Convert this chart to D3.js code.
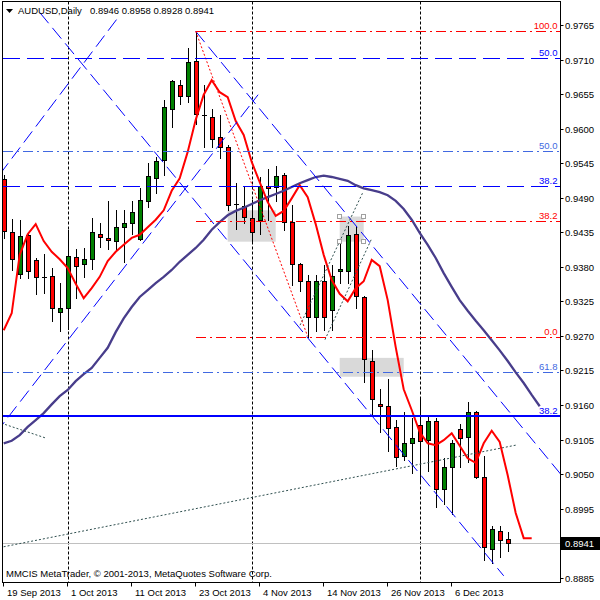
<!DOCTYPE html>
<html><head><meta charset="utf-8">
<script src="https://cdn.jsdelivr.net/npm/d3@7"></script>
<style>
body{margin:0;background:#fff}
svg{display:block}
text{font-family:"Liberation Sans",Arial,sans-serif;font-size:9.5px}
</style></head>
<body><svg id="c" width="600" height="600"></svg>
<script>
// ---------- DATA ----------
const dates = ["19 Sep","20 Sep","23 Sep","24 Sep","25 Sep","26 Sep","27 Sep","30 Sep","1 Oct","2 Oct","3 Oct","4 Oct","7 Oct","8 Oct","9 Oct","10 Oct","11 Oct","14 Oct","15 Oct","16 Oct","17 Oct","18 Oct","21 Oct","22 Oct","23 Oct","24 Oct","25 Oct","28 Oct","29 Oct","30 Oct","31 Oct","1 Nov","4 Nov","5 Nov","6 Nov","7 Nov","8 Nov","11 Nov","12 Nov","13 Nov","14 Nov","15 Nov","18 Nov","19 Nov","20 Nov","21 Nov","22 Nov","25 Nov","26 Nov","27 Nov","28 Nov","29 Nov","2 Dec","3 Dec","4 Dec","5 Dec","6 Dec","9 Dec","10 Dec","11 Dec","12 Dec","13 Dec","16 Dec","17 Dec"];
const open  = [0.9520,0.9435,0.9368,0.9430,0.9391,0.9364,0.9365,0.9308,0.9315,0.9395,0.9384,0.9392,0.9433,0.9426,0.9421,0.9443,0.9449,0.9425,0.9485,0.9522,0.9550,0.9632,0.9669,0.9652,0.9707,0.9622,0.9619,0.9586,0.9570,0.9480,0.9477,0.9457,0.9455,0.9509,0.9507,0.9526,0.9452,0.9384,0.9357,0.9300,0.9357,0.9312,0.9373,0.9374,0.9432,0.9332,0.9230,0.9161,0.9158,0.9125,0.9078,0.9099,0.9128,0.9104,0.9135,0.9027,0.9061,0.9122,0.9109,0.9149,0.9046,0.8931,0.8959,0.8946];
const high  = [0.9526,0.9456,0.9455,0.9432,0.9394,0.9400,0.9378,0.9354,0.9439,0.9409,0.9410,0.9457,0.9450,0.9484,0.9470,0.9470,0.9484,0.9505,0.9545,0.9555,0.9646,0.9677,0.9677,0.9729,0.9755,0.9669,0.9632,0.9622,0.9574,0.9513,0.9509,0.9486,0.9523,0.9535,0.9540,0.9529,0.9478,0.9386,0.9367,0.9367,0.9383,0.9383,0.9417,0.9445,0.9445,0.9333,0.9247,0.9186,0.9201,0.9136,0.9149,0.9139,0.9171,0.9142,0.9139,0.9075,0.9104,0.9130,0.9165,0.9150,0.9079,0.8967,0.8967,0.8958];
const low   = [0.9426,0.9375,0.9362,0.9362,0.9336,0.9339,0.9294,0.9278,0.9281,0.9331,0.9364,0.9376,0.9412,0.9408,0.9407,0.9387,0.9433,0.9423,0.9475,0.9497,0.9526,0.9602,0.9640,0.9643,0.9608,0.9570,0.9570,0.9554,0.9470,0.9440,0.9449,0.9418,0.9433,0.9455,0.9484,0.9439,0.9351,0.9342,0.9269,0.9277,0.9279,0.9279,0.9354,0.9354,0.9314,0.9196,0.9142,0.9117,0.9087,0.9063,0.9073,0.9052,0.9039,0.9055,0.8997,0.9002,0.8987,0.9062,0.9070,0.9044,0.8913,0.8909,0.8918,0.8928];
const close = [0.9437,0.9392,0.9429,0.9374,0.9364,0.9364,0.9314,0.9314,0.9397,0.9382,0.9392,0.9435,0.9427,0.9422,0.9443,0.9449,0.9467,0.9486,0.9525,0.9548,0.9634,0.9676,0.9652,0.9706,0.9624,0.9622,0.9583,0.9570,0.9478,0.9480,0.9459,0.9436,0.9509,0.9505,0.9525,0.9452,0.9384,0.9357,0.9300,0.9357,0.9300,0.9366,0.9376,0.9431,0.9333,0.9233,0.9169,0.9158,0.9124,0.9077,0.9099,0.9108,0.9103,0.9135,0.9026,0.9062,0.9099,0.9108,0.9149,0.9046,0.8934,0.8962,0.8945,0.8941];
// fast MA (red), plotted with forward shift: one value per bar slot 0..66
const maFast = [0.9279,0.9306,0.9399,0.9432,0.9448,0.9421,0.9404,0.9392,0.9378,0.9353,0.9330,0.9346,0.9364,0.9389,0.9404,0.9415,0.9426,0.9431,0.9443,0.9455,0.9470,0.9501,0.9521,0.9563,0.9614,0.9654,0.9677,0.9658,0.9650,0.9612,0.9590,0.9547,0.9515,0.9483,0.9461,0.9469,0.9489,0.9510,0.9491,0.9448,0.9399,0.9359,0.9337,0.9325,0.9346,0.9357,0.9391,0.9381,0.9327,0.9252,0.9185,0.9152,0.9117,0.9099,0.9096,0.9104,0.9115,0.9095,0.9075,0.9068,0.9099,0.9119,0.9101,0.9048,0.8988,0.8948,0.8948];
// slow MA (slate blue), bar slots 0..67
const maSlow = [0.9099,0.9103,0.9112,0.9125,0.9136,0.9147,0.9161,0.9174,0.9184,0.9198,0.9209,0.9219,0.9235,0.9251,0.9276,0.9298,0.9316,0.9332,0.9343,0.9354,0.9364,0.9375,0.9388,0.9399,0.9410,0.9423,0.9439,0.9451,0.9462,0.9469,0.9474,0.9480,0.9486,0.9491,0.9496,0.9501,0.9507,0.9513,0.9518,0.9523,0.9525,0.9523,0.9520,0.9517,0.9510,0.9505,0.9502,0.9499,0.9494,0.9485,0.9472,0.9455,0.9434,0.9415,0.9394,0.9370,0.9348,0.9327,0.9310,0.9294,0.9279,0.9263,0.9247,0.9230,0.9212,0.9195,0.9176,0.9158];
const priceTicks = [0.9765,0.9710,0.9655,0.9600,0.9545,0.9490,0.9435,0.9380,0.9325,0.9270,0.9215,0.9160,0.9105,0.9050,0.8995,0.8940,0.8885];
const dateTickIdx = [0,8,16,24,32,40,48,56];
const dateTickLabels = ["19 Sep 2013","1 Oct 2013","11 Oct 2013","23 Oct 2013","4 Nov 2013","14 Nov 2013","26 Nov 2013","6 Dec 2013"];
const separatorIdx = [8,31,52];   // first bars of Oct, Nov, Dec
// horizontal levels (price, label, first bar or null = from left edge)
const levelPrices = [0.9755,0.9713,0.9565,0.9509,0.9453,0.9269,0.9213,0.9143];
const levelLabels = ["100.0","50.0","50.0","38.2","38.2","0.0","61.8","38.2"];
const levelStart  = [24,null,null,null,24,24,null,null];
// trend lines: [barA, priceA, barB, priceB]
const blueLines = [[-0.5,0.9527,14.54,0.9781],[4.5,0.9785,62.5,0.8888],[-1,0.9115,31.8,0.9654],[24,0.9755,70,0.9044]];
const grayLines = [[-0.5,0.8933,64,0.9096],[-0.3,0.9131,5.34,0.9107],[37.04,0.9287,44.95,0.9500],[40.16,0.9264,46.0,0.9425]];
const fibAnchor = [24,0.9755,38,0.9269];
// rectangles: start bar, end bar, top price, bottom price
const rectStart = [28,42,42], rectEnd=[34,45,50], rectTop=[0.9470,0.9460,0.9235], rectBottom=[0.9420,0.9420,0.9205];
const bidPrice = 0.8941;
const symbol = "AUDUSD,Daily";
const copyright = "MMCIS MetaTrader, \u00A9 2001-2013, MetaQuotes Software Corp.";

// ---------- DRAW ----------
const svg = d3.select("#c");
const P = {l:2.5, r:560.5, t:1.5, b:582.5};
const x = d3.scaleLinear().domain([0,63]).range([3.7,507.7]);
const y = d3.scaleLinear().domain([0.8885,0.9765]).range([577.7,25]);
const fmt = d3.format(".4f");

svg.append("rect").attr("width",600).attr("height",600).attr("fill","#fff");
svg.append("defs").append("clipPath").attr("id","clip").append("rect")
  .attr("x",P.l).attr("y",P.t).attr("width",P.r-P.l).attr("height",P.b-P.t);
const g = svg.append("g").attr("clip-path","url(#clip)");

// background rectangles
rectStart.forEach((s,k)=>{
  g.append("rect").attr("x",x(s)).attr("y",y(rectTop[k]))
   .attr("width",x(rectEnd[k])-x(s)).attr("height",y(rectBottom[k])-y(rectTop[k]))
   .attr("fill","#d9d9d9");
});

// period separators
separatorIdx.forEach(i=>{
  const px = Math.round(x(i))+0.5;
  g.append("line").attr("x1",px).attr("x2",px).attr("y1",P.t).attr("y2",P.b)
   .attr("stroke","#000").attr("stroke-dasharray","3,2");
});

// bid line
g.append("line").attr("x1",P.l).attr("x2",P.r)
  .attr("y1",Math.round(y(bidPrice))+0.5).attr("y2",Math.round(y(bidPrice))+0.5)
  .attr("stroke","#c0c0c0");

// candles
const cg = g.append("g").attr("shape-rendering","crispEdges");
d3.range(open.length).forEach(i=>{
  const px = Math.round(x(i));
  const o=open[i], c=close[i];
  cg.append("line").attr("x1",px+0.5).attr("x2",px+0.5)
    .attr("y1",Math.round(y(high[i]))).attr("y2",Math.round(y(low[i]))+1)
    .attr("stroke","#000");
  const top = Math.round(y(Math.max(o,c))), bot = Math.round(y(Math.min(o,c)));
  if (bot-top < 1) {
    cg.append("line").attr("x1",px-2).attr("x2",px+3).attr("y1",top+0.5).attr("y2",top+0.5).attr("stroke","#000");
  } else {
    cg.append("rect").attr("x",px-1.5).attr("y",top+0.5).attr("width",4).attr("height",bot-top)
      .attr("fill", c>o ? "#008000" : "#ff0000").attr("stroke","#000");
  }
});

// moving averages
const line = d3.line().x((d,i)=>x(i)).y(d=>y(d));
g.append("path").attr("d",line(maSlow)).attr("fill","none").attr("stroke","#483d8b").attr("stroke-width",2.3);
g.append("path").attr("d",line(maFast)).attr("fill","none").attr("stroke","#ff0000").attr("stroke-width",2);

// trend lines
blueLines.forEach(l=>{
  g.append("line").attr("x1",x(l[0])).attr("y1",y(l[1])).attr("x2",x(l[2])).attr("y2",y(l[3]))
   .attr("stroke","#0000ff").attr("stroke-width",1).attr("stroke-dasharray","14,6");
});
grayLines.forEach(l=>{
  g.append("line").attr("x1",x(l[0])).attr("y1",y(l[1])).attr("x2",x(l[2])).attr("y2",y(l[3]))
   .attr("stroke","#2f4f4f").attr("stroke-width",1).attr("stroke-dasharray","2,2");
});
g.append("line").attr("x1",x(fibAnchor[0])).attr("y1",y(fibAnchor[1])).attr("x2",x(fibAnchor[2])).attr("y2",y(fibAnchor[3]))
  .attr("stroke","#ff0000").attr("stroke-dasharray","2,2");

// horizontal levels
const levelStyle = {
  0:{c:"#ff0000",d:"10,4,2,4",w:1}, 4:{c:"#ff0000",d:"10,4,2,4",w:1}, 5:{c:"#ff0000",d:"10,4,2,4",w:1},
  1:{c:"#0000ff",d:"17,7",w:1}, 3:{c:"#0000ff",d:"17,7",w:1},
  2:{c:"#4169e1",d:"10,4,2,4",w:1}, 6:{c:"#4169e1",d:"10,4,2,4",w:1},
  7:{c:"#0000ff",d:null,w:2}
};
levelPrices.forEach((p,k)=>{
  const st = levelStyle[k];
  const yy = st.w===2 ? Math.round(y(p)) : Math.round(y(p))+0.5;
  const x0 = levelStart[k]===null ? P.l : x(levelStart[k]);
  const ln = g.append("line").attr("x1",x0).attr("x2",P.r).attr("y1",yy).attr("y2",yy)
    .attr("stroke",st.c).attr("stroke-width",st.w).attr("shape-rendering","crispEdges");
  if (st.d) ln.attr("stroke-dasharray",st.d);
  svg.append("text").attr("x",557.5).attr("y",Math.round(y(p))-2).attr("text-anchor","end")
    .attr("fill",st.c).text(levelLabels[k]);
});

// selection handles on the second rectangle
[[rectStart[1],rectTop[1]],[rectEnd[1],rectTop[1]],[rectStart[1],rectBottom[1]],[rectEnd[1],rectBottom[1]]].forEach(h=>{
  g.append("rect").attr("x",Math.round(x(h[0]))-2.5).attr("y",Math.round(y(h[1]))-2.5)
   .attr("width",4).attr("height",4).attr("fill","#fff").attr("stroke","#a0a0a0");
});

// frame
svg.append("rect").attr("x",P.l).attr("y",P.t).attr("width",P.r-P.l).attr("height",P.b-P.t)
  .attr("fill","none").attr("stroke","#000").attr("shape-rendering","crispEdges");

// price axis
priceTicks.forEach(p=>{
  const yy = Math.round(y(p))+0.5;
  svg.append("line").attr("x1",P.r).attr("x2",P.r+3).attr("y1",yy).attr("y2",yy).attr("stroke","#000");
  svg.append("text").attr("x",565).attr("y",yy+3.5).attr("fill","#000").text(fmt(p));
});
const by = Math.round(y(bidPrice));
svg.append("rect").attr("x",561).attr("y",by-6).attr("width",39).attr("height",13).attr("fill","#000");
svg.append("text").attr("x",565).attr("y",by+4).attr("fill","#fff").text(fmt(bidPrice));

// time axis
dateTickIdx.forEach((i,k)=>{
  const px = Math.round(x(i))-0.5;
  svg.append("line").attr("x1",px).attr("x2",px).attr("y1",P.b).attr("y2",P.b+4).attr("stroke","#000");
  svg.append("text").attr("x",px+3.5).attr("y",596).attr("fill","#000").text(dateTickLabels[k]);
});

// title
svg.append("path").attr("d","M6,9 L13,9 L9.5,13 Z").attr("fill","#000");
svg.append("text").attr("x",18).attr("y",14).attr("fill","#000").text(symbol);
const last = open.length-1;
svg.append("text").attr("x",90).attr("y",14).attr("fill","#000")
  .text([open[last],high[last],low[last],close[last]].map(fmt).join(" "));
svg.append("text").attr("x",6).attr("y",577).attr("fill","#000").text(copyright);
</script></body></html>
